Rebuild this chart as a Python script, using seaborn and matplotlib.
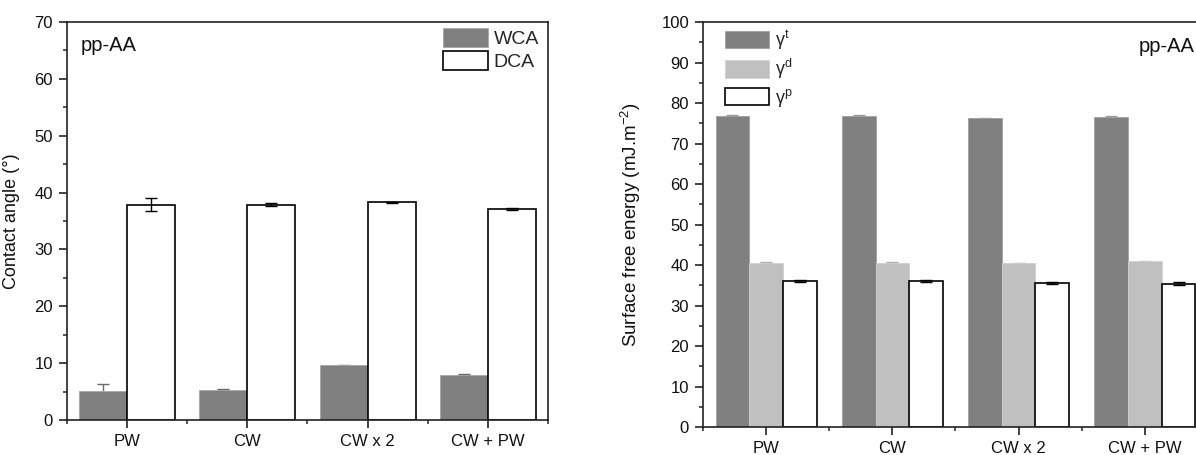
import numpy as np
import pandas as pd
import matplotlib
matplotlib.use("Agg")
import matplotlib.pyplot as plt
from matplotlib.patches import Patch
from matplotlib.ticker import MultipleLocator, FixedLocator
import seaborn as sns

# ---- data ----
samples = ["PW", "CW", "CW x 2", "CW + PW"]

wca = [5.1, 5.3, 9.6, 8.0]
wca_err = [1.3, 0.1, 0.1, 0.1]
dca = [37.9, 37.9, 38.3, 37.1]
dca_err = [1.2, 0.2, 0.1, 0.2]

gamma_t = [76.9, 76.8, 76.2, 76.6]
gamma_t_err = [0.2, 0.2, 0.2, 0.2]
gamma_d = [40.6, 40.6, 40.4, 40.9]
gamma_d_err = [0.2, 0.2, 0.2, 0.2]
gamma_p = [36.1, 36.0, 35.5, 35.4]
gamma_p_err = [0.3, 0.3, 0.2, 0.3]

sns.set_theme(style="ticks")
plt.rcParams["font.family"] = ["Liberation Sans", "DejaVu Sans"]
plt.rcParams["mathtext.fontset"] = "custom"
plt.rcParams["mathtext.rm"] = "Liberation Sans"
plt.rcParams["mathtext.it"] = "Liberation Sans:italic"

DARK = "#808080"
LIGHT = "#c0c0c0"
WHITE = "#ffffff"

fig = plt.figure(figsize=(11.96, 4.55), dpi=100)
ax1 = fig.add_axes([0.0560, 0.0769, 0.4022, 0.8747])
ax2 = fig.add_axes([0.5878, 0.0615, 0.4222, 0.8901])


def style_axes(ax, ymax, ymajor):
    ax.set_xlim(-0.5, 3.5)
    ax.set_ylim(0, ymax)
    ax.yaxis.set_major_locator(MultipleLocator(ymajor))
    ax.yaxis.set_minor_locator(MultipleLocator(ymajor / 2))
    ax.xaxis.set_minor_locator(FixedLocator([-0.5, 0.5, 1.5, 2.5, 3.5]))
    ax.tick_params(axis="both", which="major", direction="out", length=6,
                   width=1.1, labelsize=12, colors="#111111", pad=4)
    ax.tick_params(axis="both", which="minor", direction="out", length=3,
                   width=1.1)
    ax.tick_params(top=False, right=False, which="both")
    for s in ax.spines.values():
        s.set_visible(True)
        s.set_linewidth(1.2)
        s.set_color("#222222")
    ax.set_xlabel("")
    ax.set_facecolor("white")


def add_errors(ax, container, err, color, z):
    xs = [p.get_x() + p.get_width() / 2 for p in container.patches]
    ys = [p.get_height() for p in container.patches]
    ax.errorbar(xs, ys, yerr=err, fmt="none", ecolor=color, elinewidth=1.0,
                capsize=4, capthick=1.0, zorder=z)


# ---- contact angle ----
df1 = pd.DataFrame({
    "sample": samples * 2,
    "value": wca + dca,
    "series": ["WCA"] * 4 + ["DCA"] * 4,
})
sns.barplot(data=df1, x="sample", y="value", hue="series", order=samples,
            hue_order=["WCA", "DCA"], palette=[DARK, WHITE], width=0.8,
            errorbar=None, legend=False, ax=ax1, saturation=1)
c_wca, c_dca = ax1.containers[0], ax1.containers[1]
for p in c_wca.patches:
    p.set_edgecolor("#a8a8a8"); p.set_linewidth(0.6); p.set_zorder(2)
for p in c_dca.patches:
    p.set_edgecolor("black"); p.set_linewidth(1.2); p.set_zorder(2)
add_errors(ax1, c_wca, wca_err, "#6a6a6a", 1.5)
add_errors(ax1, c_dca, dca_err, "black", 3)
style_axes(ax1, 70, 10)
ax1.set_ylabel("Contact angle (°)", fontsize=13, color="#111111")
ax1.yaxis.set_label_coords(-0.098, 0.5)
ax1.text(0.029, 0.94, "pp-AA", transform=ax1.transAxes, fontsize=14.5,
         va="center", ha="left", color="#111111")
h1 = [Patch(facecolor=DARK, edgecolor="#a8a8a8", linewidth=0.6),
      Patch(facecolor=WHITE, edgecolor="black", linewidth=1.2)]
ax1.legend(h1, ["WCA", "DCA"], loc="upper left", bbox_to_anchor=(0.782, 0.985),
           frameon=False, fontsize=14, handlelength=2.3, handleheight=1.15,
           handletextpad=0.3, labelspacing=0.12, borderpad=0, borderaxespad=0)

# ---- surface free energy ----
labels2 = [r"γ$^{\mathregular{t}}$", r"γ$^{\mathregular{d}}$",
           r"γ$^{\mathregular{p}}$"]
df2 = pd.DataFrame({
    "sample": samples * 3,
    "value": gamma_t + gamma_d + gamma_p,
    "series": ["t"] * 4 + ["d"] * 4 + ["p"] * 4,
})
sns.barplot(data=df2, x="sample", y="value", hue="series", order=samples,
            hue_order=["t", "d", "p"], palette=[DARK, LIGHT, WHITE], width=0.8,
            errorbar=None, legend=False, ax=ax2, saturation=1)
c_t, c_d, c_p = ax2.containers
for p in c_t.patches:
    p.set_edgecolor("#a0a0a0"); p.set_linewidth(0.6); p.set_zorder(2)
for p in c_d.patches:
    p.set_edgecolor("#d0d0d0"); p.set_linewidth(0.6); p.set_zorder(2)
for p in c_p.patches:
    p.set_edgecolor("black"); p.set_linewidth(1.2); p.set_zorder(2)
add_errors(ax2, c_t, gamma_t_err, "#9a9a9a", 1.5)
add_errors(ax2, c_d, gamma_d_err, "#b0b0b0", 1.5)
add_errors(ax2, c_p, gamma_p_err, "black", 3)
style_axes(ax2, 100, 10)
ax2.set_ylabel(r"Surface free energy (mJ.m$^{\mathregular{-2}}$)",
               fontsize=13.5, color="#111111")
ax2.yaxis.set_label_coords(-0.118, 0.5)
ax2.text(0.863, 0.94, "pp-AA", transform=ax2.transAxes, fontsize=14.5,
         va="center", ha="left", color="#111111")
h2 = [Patch(facecolor=DARK, edgecolor="#a0a0a0", linewidth=0.6),
      Patch(facecolor=LIGHT, edgecolor="#d0d0d0", linewidth=0.6),
      Patch(facecolor=WHITE, edgecolor="black", linewidth=1.2)]
ax2.legend(h2, labels2, loc="upper left", bbox_to_anchor=(0.044, 0.985),
           frameon=False, fontsize=13, handlelength=2.45, handleheight=1.15,
           handletextpad=0.3, labelspacing=0.3, borderpad=0, borderaxespad=0)

fig.savefig("out.png", dpi=100, facecolor="white")
